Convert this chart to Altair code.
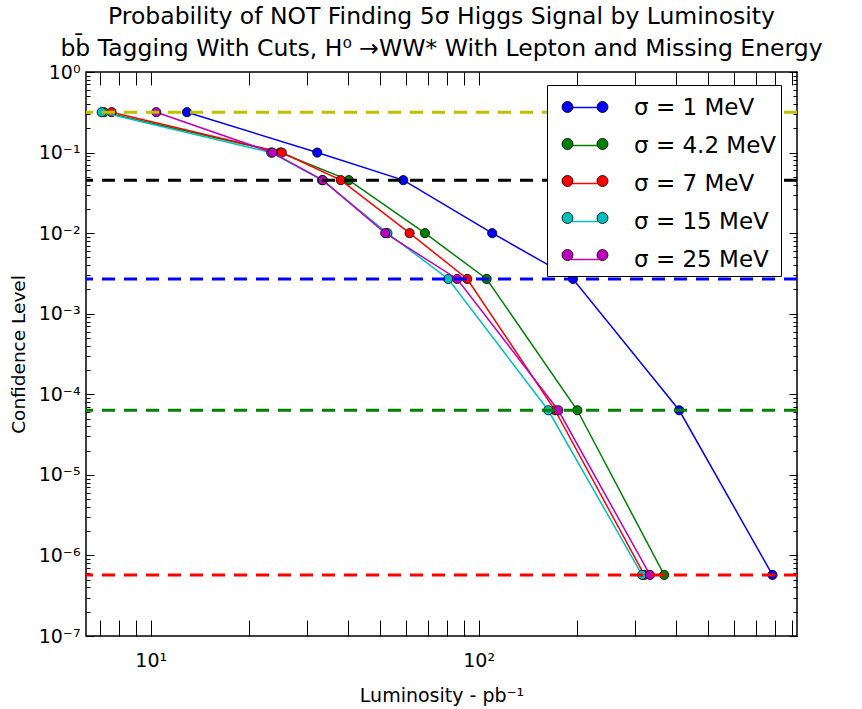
import altair as alt
import pandas as pd

FONT = "DejaVu Sans"

# Series: luminosity (pb^-1) needed to reach each confidence level
series_names = ["σ = 1 MeV", "σ = 4.2 MeV", "σ = 7 MeV", "σ = 15 MeV", "σ = 25 MeV"]
series_keys = ["1", "4.2", "7", "15", "25"]
series_colors = ["#0000ff", "#008000", "#ff0000", "#00bfbf", "#bf00bf"]

conf_levels = [0.3173, 0.1, 0.0455, 0.01, 0.0027, 6.334e-5, 5.733e-7]

lum_1mev = [12.9, 32.2, 58.9, 110.0, 194.0, 409.0, 787.0]
lum_4mev = [7.2, 24.8, 40.2, 68.6, 105.8, 200.0, 368.0]
lum_7mev = [7.6, 25.1, 38.0, 61.6, 92.3, 171.0, 320.0]
lum_15mev = [7.09, 23.3, 33.3, 52.7, 80.8, 163.0, 315.0]
lum_25mev = [10.4, 23.5, 33.5, 51.9, 86.0, 175.0, 333.0]

# n-sigma reference levels (dashed lines)
sigma_names = ["1σ", "2σ", "3σ", "4σ", "5σ"]
sigma_levels = [0.3173, 0.0455, 0.0027, 6.334e-5, 5.733e-7]
sigma_colors = ["#bfbf00", "#000000", "#0000ff", "#008000", "#ff0000"]

# tick positions
x_ticks = [7, 8, 9, 10, 20, 30, 40, 50, 60, 70, 80, 90,
           100, 200, 300, 400, 500, 600, 700, 800, 900]
y_major = [1e-7, 1e-6, 1e-5, 1e-4, 1e-3, 1e-2, 1e-1, 1.0]
y_minor = [m * 10.0 ** k for k in range(-7, 0) for m in range(2, 10)]
y_all = sorted(y_major + y_minor)

title_lines = [
    "Probability of NOT Finding 5σ Higgs Signal by Luminosity",
    "bb̄ Tagging With Cuts, H⁰ →WW* With Lepton and Missing Energy",
]

rows = []
for name, key, lums in zip(series_names, series_keys,
                           [lum_1mev, lum_4mev, lum_7mev, lum_15mev, lum_25mev]):
    for step, (lum, cl) in enumerate(zip(lums, conf_levels)):
        rows.append({"series": name, "key": key, "step": step, "lum": lum, "cl": cl})
curves = pd.DataFrame(rows)
thresholds = pd.DataFrame({"sig": sigma_names, "level": sigma_levels})

x_scale = alt.Scale(type="log", domain=[6.35, 935], nice=False)
y_scale = alt.Scale(type="log", domain=[1e-7, 1.0], nice=False)
stroke_scale = alt.Scale(domain=series_names, range=series_colors)
fill_scale = alt.Scale(domain=series_keys, range=series_colors)

legend_common = dict(
    title=None, orient="none", legendX=461, legendY=13,
    symbolSize=1225, labelFontSize=23, labelFont=FONT, padding=4,
    rowPadding=7, symbolOffset=16, labelOffset=30,
)
stroke_legend = alt.Legend(
    symbolType="stroke", symbolStrokeWidth=1.5, labelColor="black",
    fillColor="white", strokeColor="black", zindex=1, **legend_common,
)
# two marker dots at the ends of the line sample
TWO_DOTS = ("M -0.686 0 A 0.314 0.314 0 1 1 -1.314 0 A 0.314 0.314 0 1 1 -0.686 0 Z "
            "M 1.314 0 A 0.314 0.314 0 1 1 0.686 0 A 0.314 0.314 0 1 1 1.314 0 Z")
fill_legend = alt.Legend(
    symbolType=TWO_DOTS, symbolStrokeColor="black", symbolStrokeWidth=0.8,
    symbolOpacity=1, labelExpr="''", zindex=2, **legend_common,
)

series_layers = []
for name in series_names:
    base = alt.Chart(curves).transform_filter(alt.datum.series == name)
    line = base.mark_line(strokeWidth=1.5).encode(
        x=alt.X("lum:Q", scale=x_scale, axis=None),
        y=alt.Y("cl:Q", scale=y_scale, axis=None),
        stroke=alt.Stroke("series:N", scale=stroke_scale, legend=stroke_legend),
        order="step:O",
    )
    pts = base.mark_circle(size=85, stroke="black", strokeWidth=0.8, opacity=1).encode(
        x=alt.X("lum:Q", scale=x_scale, axis=None),
        y=alt.Y("cl:Q", scale=y_scale, axis=None),
        fill=alt.Fill("key:N", scale=fill_scale, legend=fill_legend),
    )
    series_layers += [line, pts]

rules = alt.Chart(thresholds).mark_rule(strokeWidth=3, strokeDash=[13, 9]).encode(
    y=alt.Y("level:Q", scale=y_scale, axis=None),
    color=alt.Color("sig:N", scale=alt.Scale(domain=sigma_names, range=sigma_colors),
                    legend=None),
)

axis_common = dict(domain=False, grid=False, tickColor="black", tickWidth=1,
                   labelFont=FONT, titleFont=FONT, labelColor="black",
                   titleColor="black", titleFontWeight="normal",
                   labelOverlap=False, labelFlush=False)

x_bottom = alt.Axis(
    orient="bottom", values=x_ticks, tickSize=16, offset=-16,
    labelExpr="datum.value == 10 ? '10¹' : datum.value == 100 ? '10²' : ''",
    labelFontSize=19, labelPadding=15, title="Luminosity - pb⁻¹",
    titleFontSize=19, titlePadding=16, **axis_common,
)
x_top = alt.Axis(orient="top", values=x_ticks, tickSize=13, offset=-13,
                 labels=False, title=None, **axis_common)
y_left = alt.Axis(
    orient="left", values=y_major, tickSize=8, offset=-8,
    labelExpr="['10⁻⁷','10⁻⁶','10⁻⁵','10⁻⁴','10⁻³','10⁻²','10⁻¹','10⁰']"
              "[round(log(datum.value) / LN10) + 7]",
    labelFontSize=19, labelPadding=6, title="Confidence Level",
    titleFontSize=18.5, titlePadding=10, **axis_common,
)
y_left_minor = alt.Axis(orient="left", values=y_all, tickSize=4, offset=-4,
                        labels=False, title=None, **axis_common)
y_right = alt.Axis(orient="right", values=y_all, tickSize=4, offset=-4,
                   labels=False, title=None, **axis_common)
y_right_major = alt.Axis(orient="right", values=y_major, tickSize=8, offset=-8,
                         labels=False, title=None, **axis_common)


def frame_layer(x_axis, y_axis):
    return alt.Chart(curves).mark_circle(opacity=0).encode(
        x=alt.X("lum:Q", scale=x_scale, axis=x_axis),
        y=alt.Y("cl:Q", scale=y_scale, axis=y_axis),
    )


frames = [
    frame_layer(x_bottom, y_left),
    frame_layer(x_top, y_right),
    frame_layer(None, y_left_minor),
    frame_layer(None, y_right_major),
]

chart = (
    alt.layer(*series_layers, rules, *frames)
    .resolve_axis(x="independent", y="independent")
    .properties(
        width=711, height=564,
        autosize=alt.AutoSizeParams(type="none"),
        padding={"left": 86, "top": 72, "right": 65, "bottom": 73},
        title=alt.TitleParams(text=title_lines, fontSize=23.5, font=FONT,
                              fontWeight="normal", lineHeight=32, offset=3,
                              anchor="middle", color="black"),
        background="white",
    )
    .configure_view(stroke="black", strokeWidth=1.5)
)

chart.save("out.html", embed_options={"renderer": "svg", "actions": False})
